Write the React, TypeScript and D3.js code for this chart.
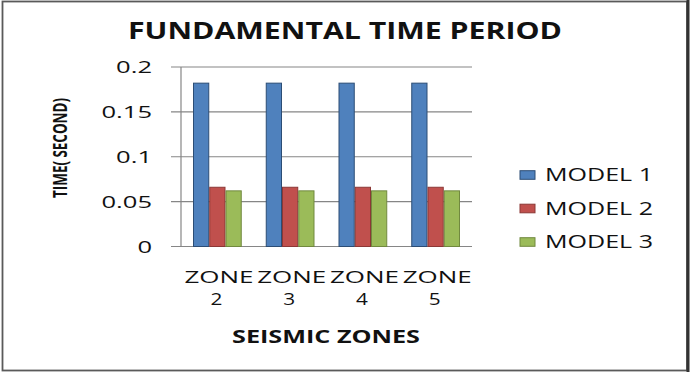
import React from "react";
import * as d3 from "d3";

const zones = ["2", "3", "4", "5"];
const models = ["MODEL 1", "MODEL 2", "MODEL 3"];
const model1 = [0.182, 0.182, 0.182, 0.182];
const model2 = [0.066, 0.066, 0.066, 0.066];
const model3 = [0.062, 0.062, 0.062, 0.062];
const yTicks = [0, 0.05, 0.1, 0.15, 0.2];
const series = [model1, model2, model3];
const fills = ["#4F81BD", "#C0504D", "#9BBB59"];
const strokes = ["#2C4D75", "#8C3836", "#71893F"];

const W = 695;
const H = 372;
const FONT = "'Open Sans', 'DejaVu Sans', sans-serif";

export default function App() {
  const left = 181;
  const right = 472;
  const y = d3.scaleLinear().domain([0, 0.2]).range([246.5, 67]);
  const x0 = d3.scaleBand<string>().domain(zones).range([left, right]).padding(0);
  const bw = x0.bandwidth();
  const gap = bw * 0.165;
  const x1 = d3.scaleBand<string>().domain(models).range([gap, bw - gap]).padding(0);

  return (
    <svg width={W} height={H} style={{ position: "absolute", left: 0, top: 0, background: "#fff" }} fontFamily={FONT}>
      <rect x={0} y={0} width={W} height={H} fill="#fff" />
      {/* frame */}
      <rect x={2.5} y={1.5} width={684.5} height={369} fill="none" stroke="#5a5a5a" strokeWidth={1.8} />
      <line x1={688} x2={688} y1={0} y2={372} stroke="#333" strokeWidth={3} />

      {/* title */}
      <text x={345} y={39.3} textAnchor="middle" fontWeight="bold" fontSize={22.4} fill="#111"
        textLength={434} lengthAdjust="spacingAndGlyphs">FUNDAMENTAL TIME PERIOD</text>

      {/* grid & y ticks */}
      {yTicks.map((t) => (
        <g key={t}>
          <line x1={171} x2={right} y1={y(t)} y2={y(t)} stroke="#868686" strokeWidth={1.2} />
          <text transform={`translate(152,${y(t) + 6.3}) scale(1.66,1)`} textAnchor="end" fontSize={15.4} fill="#111">
            {String(t)}
          </text>
        </g>
      ))}
      <line x1={left} x2={left} y1={y(0.2)} y2={y(0)} stroke="#868686" strokeWidth={1.2} />

      {/* bars */}
      {zones.map((z, i) => (
        <g key={z} transform={`translate(${x0(z)},0)`}>
          {series.map((s, j) => (
            <rect key={j} x={(x1(models[j]) as number) + 0.5} y={y(s[i])} width={x1.bandwidth() - 1}
              height={y(0) - y(s[i])} fill={fills[j]} stroke={strokes[j]} strokeWidth={1} />
          ))}
        </g>
      ))}

      {/* x labels */}
      {zones.map((z) => {
        const cx = (x0(z) as number) + bw / 2;
        return (
          <g key={z}>
            <text x={cx + 1.5} y={282.7} textAnchor="middle" fontSize={15.4} fill="#111"
              textLength={69} lengthAdjust="spacingAndGlyphs">ZONE</text>
            <text transform={`translate(${cx - 1},305) scale(1.35,1)`} textAnchor="middle" fontSize={15.4} fill="#111">{z}</text>
          </g>
        );
      })}

      {/* axis titles */}
      <text x={326} y={343.3} textAnchor="middle" fontWeight="bold" fontSize={17.2} fill="#111"
        textLength={188} lengthAdjust="spacingAndGlyphs">SEISMIC ZONES</text>
      <text transform="translate(67,148) scale(1.2,1) rotate(-90)" textAnchor="middle" fontWeight="bold"
        fontSize={16} fill="#111" textLength={100} lengthAdjust="spacingAndGlyphs">TIME( SECOND)</text>

      {/* legend */}
      {models.map((m, j) => {
        const yy = 175 + j * 33.5;
        return (
          <g key={m}>
            <rect x={520} y={yy - 4.3} width={15} height={8.6} fill={fills[j]} stroke={strokes[j]} strokeWidth={1} />
            <text x={545} y={yy + 6} fontSize={17.8} fill="#111" textLength={108} lengthAdjust="spacingAndGlyphs">{m}</text>
          </g>
        );
      })}
    </svg>
  );
}
